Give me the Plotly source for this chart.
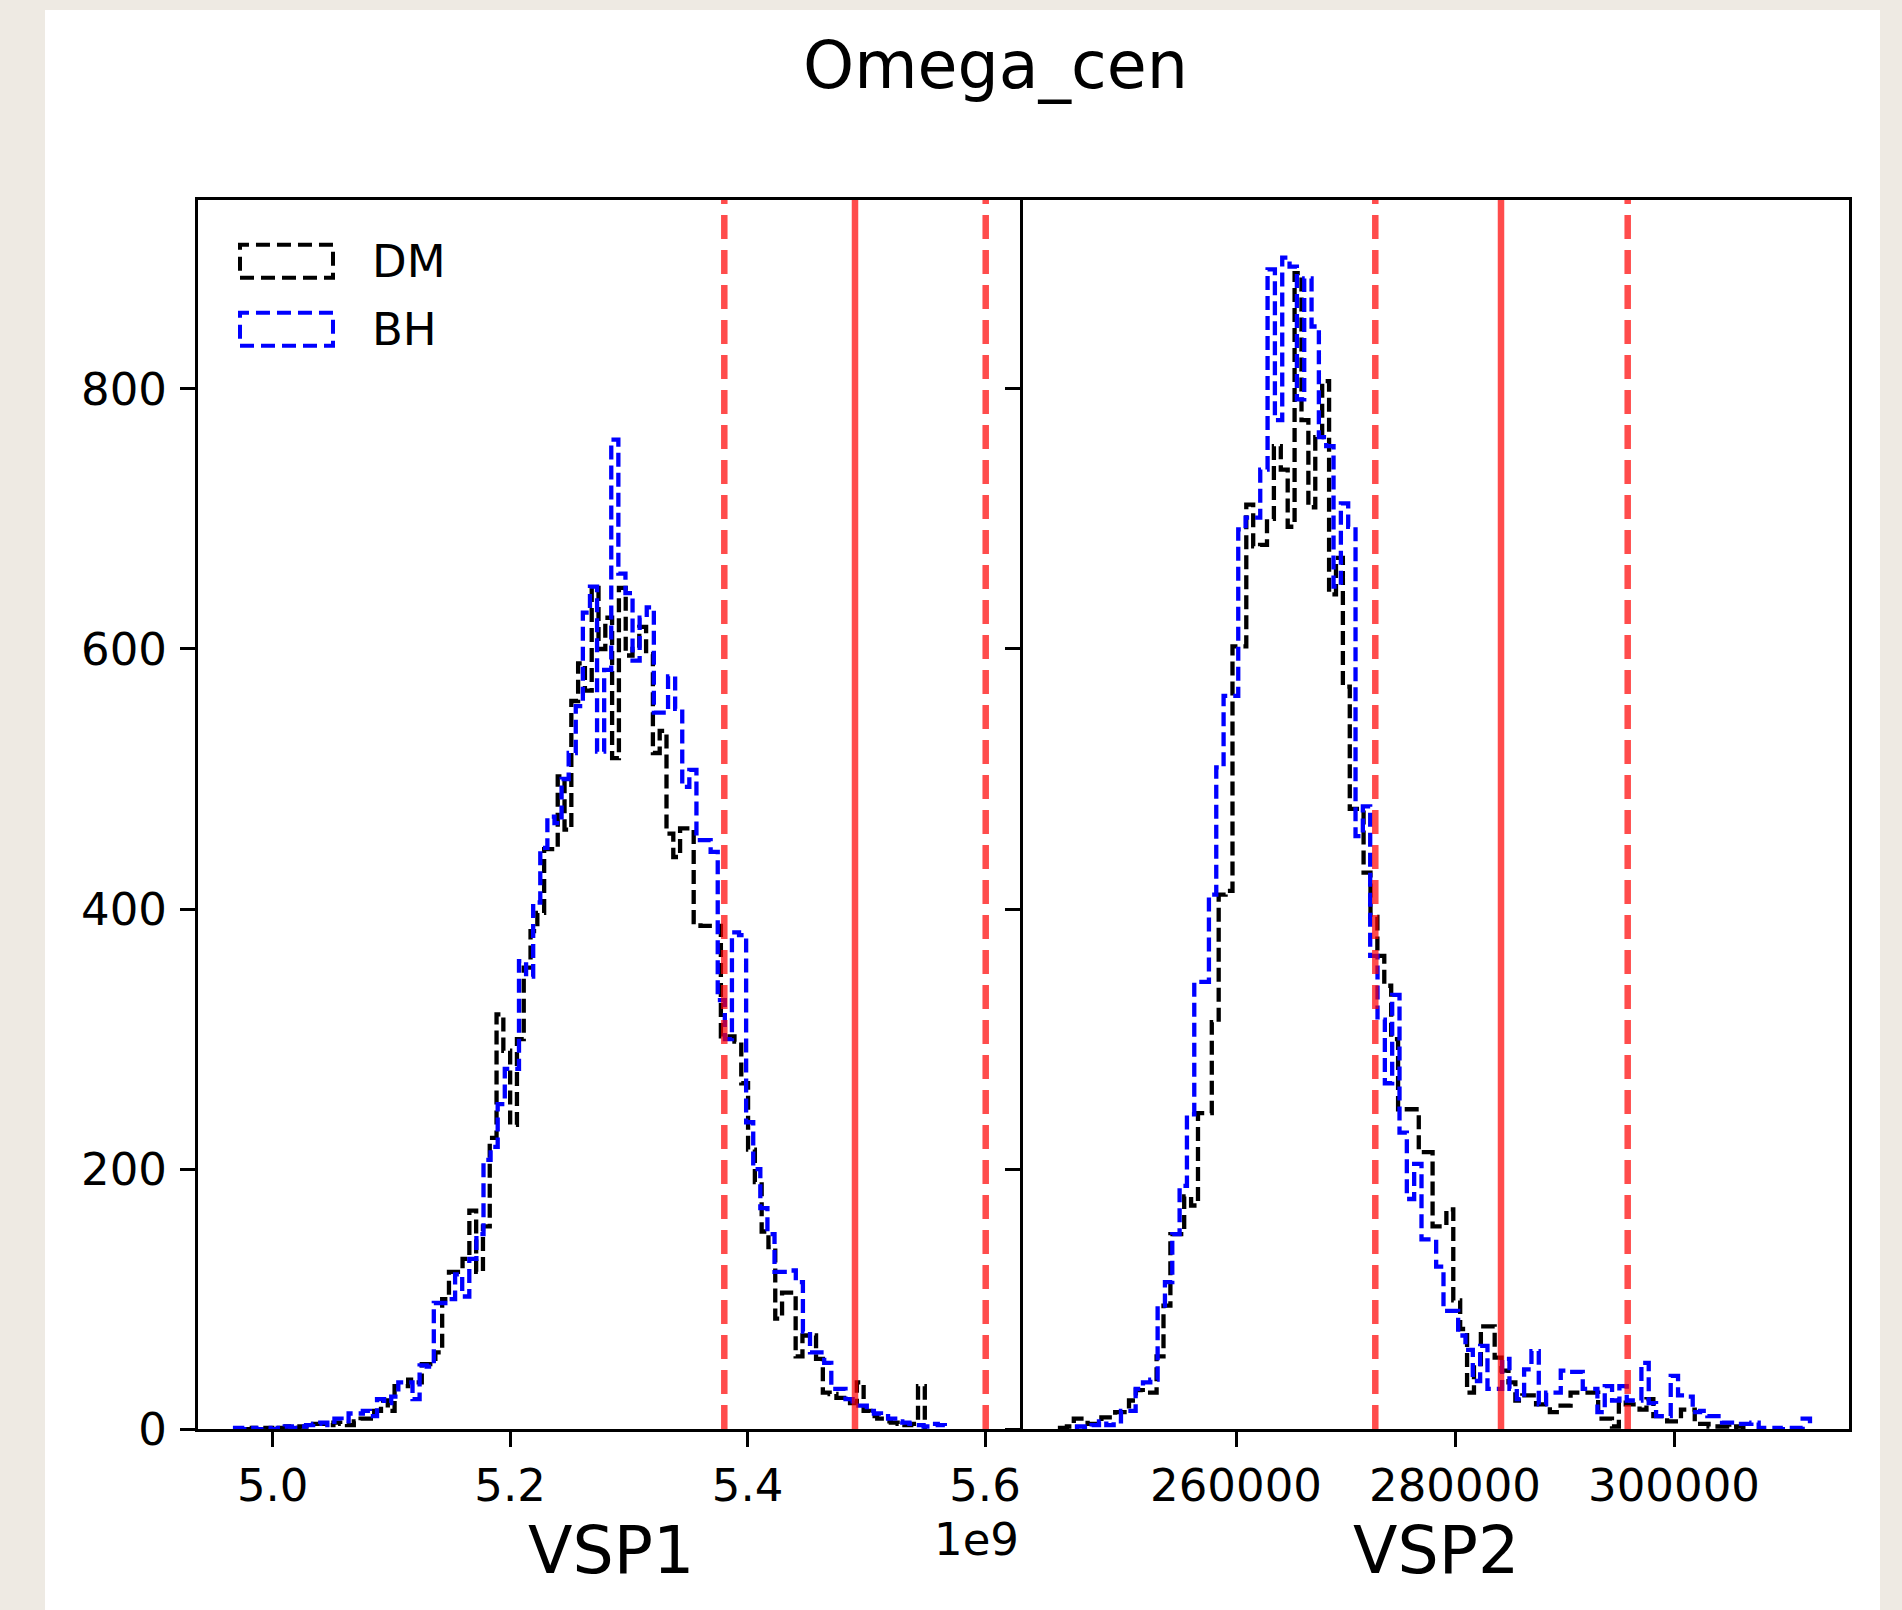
import plotly.graph_objects as go

W, H = 1902, 1636
REF_H = 1610  # vertical layout is expressed in reference pixels

# ---------------- data ----------------
title_text = "Omega_cen"
xlabel_left = "VSP1"
xlabel_right = "VSP2"
legend_labels = ["DM", "BH"]

# VSP1 histograms (step, 100 bins each)
dm_vsp1_start = 4.9767e9
dm_vsp1_width = 0.005726e9
dm_vsp1_counts = [0, 1, 0, 1, 0, 1, 2, 1, 2, 2,
                  4, 4, 3, 5, 4, 3, 6, 8, 8, 14,
                  22, 14, 33, 33, 38, 36, 50, 50, 59, 100,
                  121, 121, 131, 168, 121, 156, 224, 319, 291, 234,
                  300, 355, 383, 397, 446, 446, 502, 461, 560, 589,
                  568, 647, 600, 624, 516, 647, 595, 600, 617, 596,
                  520, 537, 458, 440, 462, 462, 390, 387, 387, 387,
                  302, 302, 298, 266, 215, 190, 152, 140, 85, 105,
                  105, 56, 72, 72, 54, 28, 27, 24, 24, 20,
                  36, 14, 10, 8, 6, 5, 4, 3, 4, 33]

bh_vsp1_start = 4.9683e9
bh_vsp1_width = 0.005979e9
bh_vsp1_counts = [1, 0, 1, 0, 1, 0, 1, 2, 1, 2,
                  3, 4, 5, 3, 8, 6, 12, 12, 14, 10,
                  23, 20, 25, 36, 36, 23, 49, 48, 97, 97,
                  100, 119, 102, 131, 150, 207, 217, 250, 277, 277,
                  360, 348, 405, 447, 471, 466, 500, 520, 556, 628,
                  648, 521, 584, 761, 658, 643, 591, 624, 632, 551,
                  551, 579, 554, 494, 507, 453, 453, 444, 330, 300,
                  382, 380, 236, 200, 170, 150, 121, 121, 122, 113,
                  75, 59, 59, 51, 31, 31, 23, 18, 18, 14,
                  12, 10, 8, 6, 5, 4, 3, 2, 4, 3]

# VSP2 histograms
dm_vsp2_start = 243927
dm_vsp2_width = 630.1
dm_vsp2_counts = [1, 2, 8, 8, 4, 4, 9, 9, 13, 13,
                  22, 30, 28, 28, 56, 95, 150, 150, 179, 172,
                  243, 243, 313, 411, 414, 602, 602, 711, 679, 680,
                  700, 756, 738, 694, 889, 776, 709, 763, 806, 642,
                  670, 571, 477, 477, 428, 394, 364, 341, 300, 246,
                  246, 246, 213, 213, 156, 156, 169, 99, 77, 28,
                  50, 79, 79, 55, 45, 36, 22, 26, 26, 19,
                  19, 13, 18, 18, 28, 28, 28, 28, 8, 8,
                  2, 22, 19, 19, 15, 23, 10, 10, 6, 6,
                  15, 15, 4, 4, 2, 2, 2, 1, 2, 1]

bh_vsp2_start = 245479
bh_vsp2_width = 669.4
bh_vsp2_counts = [2, 1, 3, 6, 3, 6, 14, 14, 31, 36,
                  38, 95, 113, 150, 187, 242, 344, 344, 411, 509,
                  564, 564, 692, 701, 701, 738, 892, 776, 901, 894,
                  792, 885, 848, 763, 756, 648, 712, 694, 456, 479,
                  364, 315, 266, 334, 228, 177, 204, 146, 146, 125,
                  91, 91, 72, 61, 37, 64, 31, 31, 54, 31,
                  23, 46, 60, 19, 28, 28, 45, 44, 44, 31,
                  31, 13, 33, 22, 33, 22, 22, 51, 20, 10,
                  10, 41, 26, 25, 13, 14, 10, 10, 5, 5,
                  4, 4, 5, 1, 1, 1, 0, 1, 1, 8]

# reference lines (median and interval)
vsp1_lines = [5.3804e9, 5.4905e9, 5.6006e9]
vsp2_lines = [272721, 284201, 295772]
line_dashed = [True, False, True]

# axes
x1_range = [4.93708e9, 5.63201e9]
x2_range = [240548, 315982]
y_range = [0, 945.4]
x1_ticks = [5.0e9, 5.2e9, 5.4e9, 5.6e9]
x1_ticktext = ["5.0", "5.2", "5.4", "5.6"]
x2_ticks = [260000, 280000, 300000]
x2_ticktext = ["260000", "280000", "300000"]
y_ticks = [0, 200, 400, 600, 800]
y_ticktext = ["0", "200", "400", "600", "800"]
offset_text = "1e9"

# ---------------- helpers ----------------
def step_xy(start, width, counts):
    edges = [start + width * i for i in range(len(counts) + 1)]
    xs = [edges[0]] + edges[:-1] + [edges[-1]]
    ys = [0] + list(counts) + [0]
    return xs, ys

def px_x(p):
    return p / W

def px_y(p):
    return 1 - p / REF_H

FONT = "DejaVu Sans"
HIST_DASH = "14px,6px"
LW = 4.3
BEIGE = "#eeeae3"

fig = go.Figure()

series = [
    (dm_vsp1_start, dm_vsp1_width, dm_vsp1_counts, "black", "x", "y", legend_labels[0]),
    (bh_vsp1_start, bh_vsp1_width, bh_vsp1_counts, "blue", "x", "y", legend_labels[1]),
    (dm_vsp2_start, dm_vsp2_width, dm_vsp2_counts, "black", "x2", "y2", legend_labels[0]),
    (bh_vsp2_start, bh_vsp2_width, bh_vsp2_counts, "blue", "x2", "y2", legend_labels[1]),
]
for st, wd, cts, col, xa, ya, name in series:
    xs, ys = step_xy(st, wd, cts)
    fig.add_trace(go.Scatter(
        x=xs, y=ys, mode="lines", line_shape="hv",
        line=dict(color=col, width=LW, dash=HIST_DASH),
        xaxis=xa, yaxis=ya, name=name, showlegend=False, hoverinfo="skip"))

# card background
shapes = [dict(type="rect", xref="paper", yref="paper",
               x0=px_x(45), x1=px_x(1880), y0=-0.05, y1=px_y(10),
               fillcolor="white", line=dict(width=0), layer="below")]

# red reference lines
for vals, xr in [(vsp1_lines, "x"), (vsp2_lines, "x2")]:
    for v, dashed in zip(vals, line_dashed):
        shapes.append(dict(type="line", xref=xr, yref=("y domain" if xr == "x" else "y2 domain"),
                           x0=v, x1=v, y0=0, y1=1,
                           line=dict(color="rgba(255,0,0,0.7)", width=6.5,
                                     dash=("24px,11px" if dashed else "solid")),
                           layer="above"))

# legend patches (dashed outline rectangles)
leg_colors = ["black", "blue"]
leg_tops = [245, 313]
for col, top in zip(leg_colors, leg_tops):
    shapes.append(dict(type="rect", xref="paper", yref="paper",
                       x0=px_x(240), x1=px_x(333), y0=px_y(top + 33), y1=px_y(top),
                       line=dict(color=col, width=4.0, dash="14px,7px"),
                       fillcolor="rgba(0,0,0,0)", layer="above"))

annotations = []
for lab, cy in zip(legend_labels, [261.7, 329.5]):
    annotations.append(dict(text=lab, xref="paper", yref="paper", x=px_x(370), y=px_y(cy),
                            xanchor="left", yanchor="middle", showarrow=False,
                            font=dict(family=FONT, size=45, color="black")))

annotations.append(dict(text=title_text, xref="paper", yref="paper", x=px_x(996), y=px_y(66),
                        xanchor="center", yanchor="middle", showarrow=False,
                        font=dict(family=FONT, size=65, color="black")))
annotations.append(dict(text=xlabel_left, xref="paper", yref="paper", x=px_x(610.5), y=px_y(1551),
                        xanchor="center", yanchor="middle", showarrow=False,
                        font=dict(family=FONT, size=65, color="black")))
annotations.append(dict(text=xlabel_right, xref="paper", yref="paper", x=px_x(1436), y=px_y(1551),
                        xanchor="center", yanchor="middle", showarrow=False,
                        font=dict(family=FONT, size=65, color="black")))
annotations.append(dict(text=offset_text, xref="paper", yref="paper", x=px_x(1021), y=px_y(1540),
                        xanchor="right", yanchor="middle", showarrow=False,
                        font=dict(family=FONT, size=45, color="black")))

axis_common = dict(showline=True, linecolor="black", linewidth=3,
                   ticks="outside", ticklen=15, tickwidth=3, tickcolor="black",
                   showgrid=False, zeroline=False,
                   tickfont=dict(family=FONT, size=45, color="black"))

fig.update_layout(
    width=W, height=H, margin=dict(l=0, r=0, t=0, b=0),
    paper_bgcolor=BEIGE, plot_bgcolor="rgba(0,0,0,0)",
    showlegend=False,
    xaxis=dict(domain=[198 / W, 1023 / W], range=x1_range, tickmode="array",
               tickvals=x1_ticks, ticktext=x1_ticktext, anchor="y", mirror=True, **axis_common),
    xaxis2=dict(domain=[1023 / W, 1849 / W], range=x2_range, tickmode="array",
                tickvals=x2_ticks, ticktext=x2_ticktext, anchor="y2", mirror=True, **axis_common),
    yaxis=dict(domain=[px_y(1430), px_y(200)], range=y_range, tickmode="array",
               tickvals=y_ticks, ticktext=y_ticktext, anchor="x", mirror=False,
               ticklabelstandoff=4, **axis_common),
    yaxis2=dict(domain=[px_y(1430), px_y(200)], range=y_range, tickmode="array",
                tickvals=y_ticks, ticktext=y_ticktext, anchor="x2", showticklabels=False,
                mirror=True, **axis_common),
    shapes=shapes, annotations=annotations,
)

post = ("document.body.style.margin='0';"
        "document.body.style.background='linear-gradient(to right, %s 45px, white 45px, "
        "white 1880px, %s 1880px)';" % (BEIGE, BEIGE))
fig.write_html("out.html", post_script=post)
